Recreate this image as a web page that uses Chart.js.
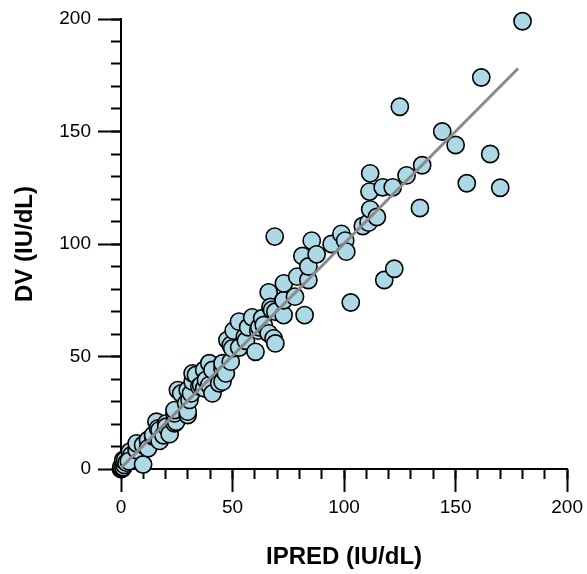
<!DOCTYPE html>
<html>
<head>
<meta charset="utf-8">
<script src="https://cdn.jsdelivr.net/npm/chart.js@4.4.0/dist/chart.umd.min.js"></script>
<style>
  html, body { margin: 0; padding: 0; background: #fff; }
  #wrap { width: 587px; height: 574px; }
</style>
</head>
<body>
<div id="wrap"><canvas id="chart" width="587" height="574"></canvas></div>
<script>
// --- data ---
const ipred = [
  0, 0.3, 0.6, 0.2, 1.0, 1.5, 1, 1.8, 2.5, 4, 4.7, 3.5, 7, 7, 9.9, 9.9,
  12.1, 12.1, 14.4, 14.4, 15.9, 16.6, 17.3, 17.3, 19, 20.3, 20.3, 21.8,
  24, 24.7, 24, 24, 25.5, 27, 29.2, 29.9, 29.9, 29.9, 30.7, 31.4, 32.1, 32.1,
  33.6, 35.1, 35.9, 37.3, 37.3, 38.1, 39.6, 39.6, 41, 41, 44, 45.5, 45.5, 45.5,
  47, 47.7, 49.2, 49.2, 49.9, 50.5, 52.9, 53, 55.5, 56, 57, 58.8, 60.3, 61.5,
  62, 63.3, 64, 66.2, 66.2, 67, 67.7, 68.4, 68.9, 69.2, 69.2, 72.9, 72.9, 73,
  78, 79, 81.3, 82.3, 84, 84, 85.5, 87.7, 94.4, 98.8, 100.5, 101, 103,
  108.4, 111, 111.4, 111.7, 111.7, 114.7, 117.3, 118, 121.8, 122.5, 125, 128,
  134, 135, 144, 150, 155, 161.5, 165.5, 170, 180
];
const dv = [
  0, 0.4, 0.2, 1.0, 0.8, 1.8, 4, 4, 2.8, 7.7, 6.2, 3.5, 8.4, 11.4, 10.7, 2,
  12.9, 9.2, 14.4, 15.1, 21, 18.1, 17.3, 12.5, 15, 20.3, 18.8, 15.5,
  20.3, 21, 24.7, 26.2, 35.1, 33.6, 29.2, 24, 25.5, 35.1, 30.7, 33.6, 38.8, 42.5,
  41.8, 36.6, 37.3, 35.9, 44, 39.6, 37.3, 47, 44, 33.6, 38.1, 38.8, 44.7, 47,
  42.5, 57.3, 47.7, 55.1, 53.6, 61.5, 65.5, 54, 58.8, 57, 63, 67.4, 52.1, 61.5,
  63, 67, 64, 60.3, 78.5, 72, 70.7, 58.1, 103.3, 55.8, 69.9, 68.4, 75, 82.5,
  76.6, 85.5, 94.7, 68.4, 84, 90, 101.5, 95.4, 100, 104.5, 101.5, 96.6, 74,
  108, 109.5, 123.3, 115.4, 131.4, 112, 125.2, 84, 125.2, 89, 161, 130.5,
  116, 135, 150, 144, 127, 174, 140, 125, 199
];
// fitted line (end points)
const fitX = [0, 178];
const fitY = [0.5, 178];

const axisMin = 0;
const axisMax = 200;
const majorStep = 50;
const minorStep = 10;

const xTitle = 'IPRED (IU/dL)';
const yTitle = 'DV (IU/dL)';

// --- build chart ---
const points = ipred.map((v, i) => ({ x: v, y: dv[i] }));
const fitLine = fitX.map((v, i) => ({ x: v, y: fitY[i] }));

const tickFont = { family: "'Liberation Sans', Arial, sans-serif", size: 19 };
const titleFont = { family: "'Liberation Sans', Arial, sans-serif", size: 24, weight: 'bold' };

// major axis: labels, long ticks, title
function majorAxis(title, isY) {
  return {
    type: 'linear',
    min: axisMin,
    max: axisMax,
    ticks: {
      stepSize: majorStep,
      autoSkip: false,
      maxRotation: 0,
      color: '#000',
      font: tickFont,
      padding: isY ? 7 : 4
    },
    grid: {
      drawOnChartArea: false,
      drawTicks: true,
      tickLength: 23,
      tickWidth: 2,
      tickColor: '#000'
    },
    border: { display: true, color: '#000', width: 2 },
    title: {
      display: true,
      text: title,
      color: '#000',
      font: titleFont,
      padding: isY ? { top: 10.5, bottom: 0 } : { top: 0, bottom: 2.5 }
    },
    afterFit: (s) => {
      if (isY) s.width = 121; else s.height = 105;
    }
  };
}

// minor axis: short ticks only, sitting on the same line
function minorAxis(isY) {
  return {
    type: 'linear',
    axis: isY ? 'y' : 'x',
    position: isY ? { x: 0 } : { y: 0 },
    min: axisMin,
    max: axisMax,
    ticks: { stepSize: minorStep, autoSkip: false, display: false },
    grid: {
      drawOnChartArea: false,
      drawTicks: true,
      tickLength: 10,
      tickWidth: 2,
      tickColor: '#000'
    },
    border: { display: false }
  };
}

new Chart(document.getElementById('chart'), {
  type: 'scatter',
  data: {
    datasets: [
      {
        data: fitLine,
        showLine: true,
        borderColor: '#8a8a8a',
        borderWidth: 3,
        pointRadius: 0,
        fill: false
      },
      {
        data: points,
        backgroundColor: '#ADD8E6',
        borderColor: '#000',
        borderWidth: 1.6,
        pointRadius: 8.6,
        clip: false
      }
    ]
  },
  options: {
    responsive: false,
    devicePixelRatio: 1,
    animation: false,
    events: [],
    layout: { padding: { top: 19, right: 16, bottom: 0, left: 0 } },
    plugins: { legend: { display: false }, tooltip: { enabled: false } },
    scales: {
      x: majorAxis(xTitle, false),
      y: majorAxis(yTitle, true),
      xm: minorAxis(false),
      ym: minorAxis(true)
    }
  }
});
</script>
</body>
</html>
